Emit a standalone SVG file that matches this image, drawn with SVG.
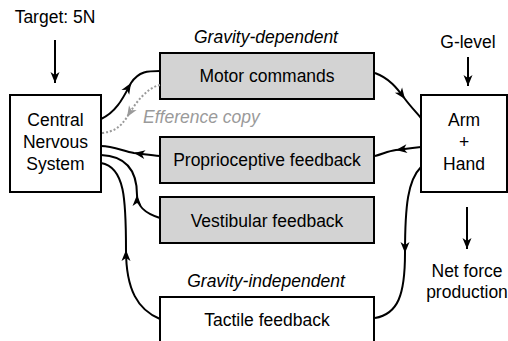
<svg xmlns="http://www.w3.org/2000/svg" width="508" height="341" viewBox="0 0 508 341">
<style>
text{font-family:"Liberation Sans",Arial,sans-serif;font-size:17.5px;fill:#000}
.c{text-anchor:middle}
.i{font-style:italic}
.g{fill:#9a9a9a}
.box{stroke:#000;stroke-width:2}
.gray{fill:#d3d3d3}
.white{fill:#fff}
.con{fill:none;stroke:#000;stroke-width:2}
.mid{marker-mid:url(#ah)}
.end{marker-end:url(#ah)}
.dot{fill:none;stroke:#9a9a9a;stroke-width:2;stroke-dasharray:2 2;marker-mid:url(#ahg)}
</style>
<defs>
<marker id="ah" markerUnits="userSpaceOnUse" viewBox="-12 -6 13 12" markerWidth="13" markerHeight="12" refX="0" refY="0" orient="auto">
<path d="M0,0 L-11,-4.5 L-8,0 L-11,4.5 Z" fill="#000"/>
</marker>
<marker id="ahg" markerUnits="userSpaceOnUse" viewBox="-12 -6 13 12" markerWidth="13" markerHeight="12" refX="0" refY="0" orient="auto">
<path d="M0,0 L-11,-4.5 L-8,0 L-11,4.5 Z" fill="#9a9a9a"/>
</marker>
</defs>
<rect width="508" height="341" fill="#fff"/>
<text class="c" x="55" y="23">Target: 5N</text>
<text class="c" x="468" y="48">G-level</text>
<text class="c i" x="266" y="43">Gravity-dependent</text>
<text class="c i" x="266" y="287">Gravity-independent</text>
<text class="i g" x="143" y="123">Efference copy</text>
<text class="c" x="467" y="277">Net force</text>
<text class="c" x="467" y="298">production</text>
<g id="cns">
<rect class="box white" x="10" y="95" width="91" height="97"/>
<text class="c" x="55.5" y="126">Central</text>
<text class="c" x="55.5" y="148">Nervous</text>
<text class="c" x="55.5" y="170">System</text>
</g>
<g id="motor">
<rect class="box gray" x="160" y="53" width="214" height="46"/>
<text class="c" x="267" y="82">Motor commands</text>
</g>
<g id="proprio">
<rect class="box gray" x="160" y="137" width="214" height="46"/>
<text class="c" x="267" y="166">Proprioceptive feedback</text>
</g>
<g id="vestib">
<rect class="box gray" x="160" y="197" width="214" height="46"/>
<text class="c" x="267" y="227">Vestibular feedback</text>
</g>
<g id="tactile">
<rect class="box white" x="160" y="297" width="214" height="60"/>
<text class="c" x="267" y="326">Tactile feedback</text>
</g>
<g id="arm">
<rect class="box white" x="421" y="95" width="86" height="97"/>
<text class="c" x="464" y="126">Arm</text>
<text class="c" x="464" y="148">+</text>
<text class="c" x="464" y="170">Hand</text>
</g>
<g id="connectors">
<path class="con end" d="M55,40 L55,83"/>
<path class="con end" d="M468,57 L468,86"/>
<path class="con end" d="M467,207 L467,249"/>
<path class="con mid" d="M101,119 C117,112 124,96 131,83 C139,71 148,71 160,71"/>
<path class="dot" d="M160,85 C146,88 135,104 127,117 C120,128 113,132 101,133"/>
<path class="con mid" d="M375,73 C389,78 397,88 405,99 C411,107 416,112 421,118"/>
<path class="con mid" d="M421,147 C410,148 404,149 396,150 C388,151 383,154 375,156"/>
<path class="con mid" d="M160,156 C150,155 143,154 134,153 C123,151 113,146 101,146"/>
<path class="con mid" d="M160,218 C144,213 137,206 137,195 C137,170 126,156 101,155"/>
<path class="con mid" d="M160,319 C138,310 126,290 126,250 C126,200 125,167 101,163"/>
<path class="con mid" d="M421,167 C408,180 405,205 405,253 C405,295 398,314 375,318"/>
</g>
</svg>
